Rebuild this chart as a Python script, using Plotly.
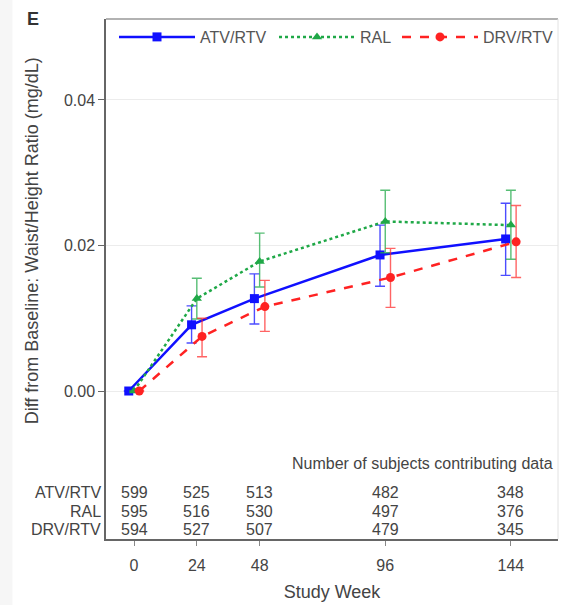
import plotly.graph_objects as go

weeks = [0, 24, 48, 96, 144]
tick_labels = ["0", "24", "48", "96", "144"]
groups = ["ATV/RTV", "RAL", "DRV/RTV"]

atv_mean = [0.0, 0.0091, 0.0127, 0.0187, 0.0209]
atv_lo = [0.0, 0.0066, 0.0092, 0.0144, 0.0159]
atv_hi = [0.0, 0.0117, 0.0161, 0.0228, 0.0258]

ral_mean = [0.0, 0.0127, 0.0178, 0.0233, 0.0228]
ral_lo = [0.0, 0.0099, 0.0143, 0.0190, 0.0181]
ral_hi = [0.0, 0.0155, 0.0217, 0.0276, 0.0276]

drv_mean = [0.0, 0.0075, 0.0116, 0.0156, 0.0205]
drv_lo = [0.0, 0.0047, 0.0082, 0.0115, 0.0156]
drv_hi = [0.0, 0.0100, 0.0152, 0.0196, 0.0255]

n_atv = [599, 525, 513, 482, 348]
n_ral = [595, 516, 530, 497, 376]
n_drv = [594, 527, 507, 479, 345]

offsets = [-2.0, 0.0, 2.0]
colors = ["#1010ff", "#1fa847", "#ff2222"]
err_colors = ["rgba(16,16,255,0.75)", "rgba(31,168,71,0.75)", "rgba(255,34,34,0.7)"]
dashes = ["solid", "dot", "dash"]
symbols = ["square", "triangle-up", "circle"]
legend_ids = ["legend", "legend2", "legend3"]
means = [atv_mean, ral_mean, drv_mean]
los = [atv_lo, ral_lo, drv_lo]
his = [atv_hi, ral_hi, drv_hi]
counts = [n_atv, n_ral, n_drv]

fig = go.Figure()
for g, off, c, ec, d, s, lg, m, lo, hi in zip(groups, offsets, colors, err_colors, dashes,
                                              symbols, legend_ids, means, los, his):
    fig.add_trace(go.Scatter(
        x=[w + off for w in weeks], y=m, name=g, mode="lines+markers", legend=lg,
        line=dict(color=c, width=2.5, dash=d),
        marker=dict(symbol=s, size=9, color=c),
        error_y=dict(type="data", symmetric=False,
                     array=[h - v for h, v in zip(hi, m)],
                     arrayminus=[v - l for v, l in zip(m, lo)],
                     color=ec, thickness=1.4, width=5),
    ))

font_family = "Liberation Sans, Arial, sans-serif"
txt_color = "#444"
annotations = []
row_y = [-0.0140, -0.0165, -0.0191]
for g, ry, cnt in zip(groups, row_y, counts):
    annotations.append(dict(x=0, xref="paper", y=ry, yref="y", text=g, showarrow=False,
                            xanchor="right", xshift=-3, font=dict(size=16, color=txt_color)))
    for w, n in zip(weeks, cnt):
        annotations.append(dict(x=w, xref="x", y=ry, yref="y", text=str(n), showarrow=False,
                                xanchor="center", font=dict(size=16, color=txt_color)))
annotations.append(dict(x=1, xref="paper", y=-0.0099, yref="y",
                        text="Number of subjects contributing data", showarrow=False,
                        xanchor="right", xshift=-3, font=dict(size=16, color=txt_color)))
annotations.append(dict(x=-0.163, xref="paper", y=0.573, yref="paper",
                        text="Diff from Baseline: Waist/Height Ratio (mg/dL)", textangle=-90,
                        showarrow=False, xanchor="center", yanchor="middle",
                        font=dict(size=18, color=txt_color)))
annotations.append(dict(x=-0.162, xref="paper", y=1.0, yref="paper", text="<b>E</b>",
                        showarrow=False, xanchor="center", yanchor="middle",
                        font=dict(size=18, color="#333")))

shapes = [
    dict(type="rect", xref="paper", yref="paper", x0=-0.2345, x1=-0.207, y0=-0.13, y1=1.04,
         fillcolor="#f6f6f6", line=dict(width=0), layer="below"),
    dict(type="line", xref="paper", yref="paper", x0=0, x1=1, y0=1, y1=1,
         line=dict(color="#999", width=1.5)),
    dict(type="line", xref="paper", yref="paper", x0=1, x1=1, y0=0, y1=1,
         line=dict(color="#e2e2e2", width=1)),
]

legend_common = dict(orientation="h", xanchor="left", yanchor="middle", y=0.9654,
                     bgcolor="rgba(0,0,0,0)", itemwidth=76,
                     font=dict(size=16, color="#555"))

fig.update_layout(
    width=562, height=605,
    margin=dict(l=106, r=4, t=19, b=66),
    paper_bgcolor="white", plot_bgcolor="white",
    font=dict(family=font_family, size=16, color=txt_color),
    showlegend=True,
    legend=dict(x=0.0177, **legend_common),
    legend2=dict(x=0.3717, **legend_common),
    legend3=dict(x=0.6438, **legend_common),
    xaxis=dict(range=[-10.7, 162], tickvals=weeks, ticktext=tick_labels,
               showgrid=False, zeroline=False, showline=True, linecolor="#666", linewidth=1.5,
               ticks="outside", ticklen=5, tickcolor="#888", ticklabelstandoff=6,
               title=dict(text="Study Week", font=dict(size=18, color=txt_color), standoff=12),
               tickfont=dict(size=16, color=txt_color)),
    yaxis=dict(range=[-0.02034, 0.05113], tickvals=[0.0, 0.02, 0.04],
               ticktext=["0.00", "0.02", "0.04"],
               showgrid=True, gridcolor="#ececec", gridwidth=1, zeroline=False,
               showline=True, linecolor="#666", linewidth=1.5,
               ticks="outside", ticklen=6, tickcolor="#666",
               tickfont=dict(size=16, color=txt_color)),
    annotations=annotations, shapes=shapes,
)

fig.write_html("out.html")
